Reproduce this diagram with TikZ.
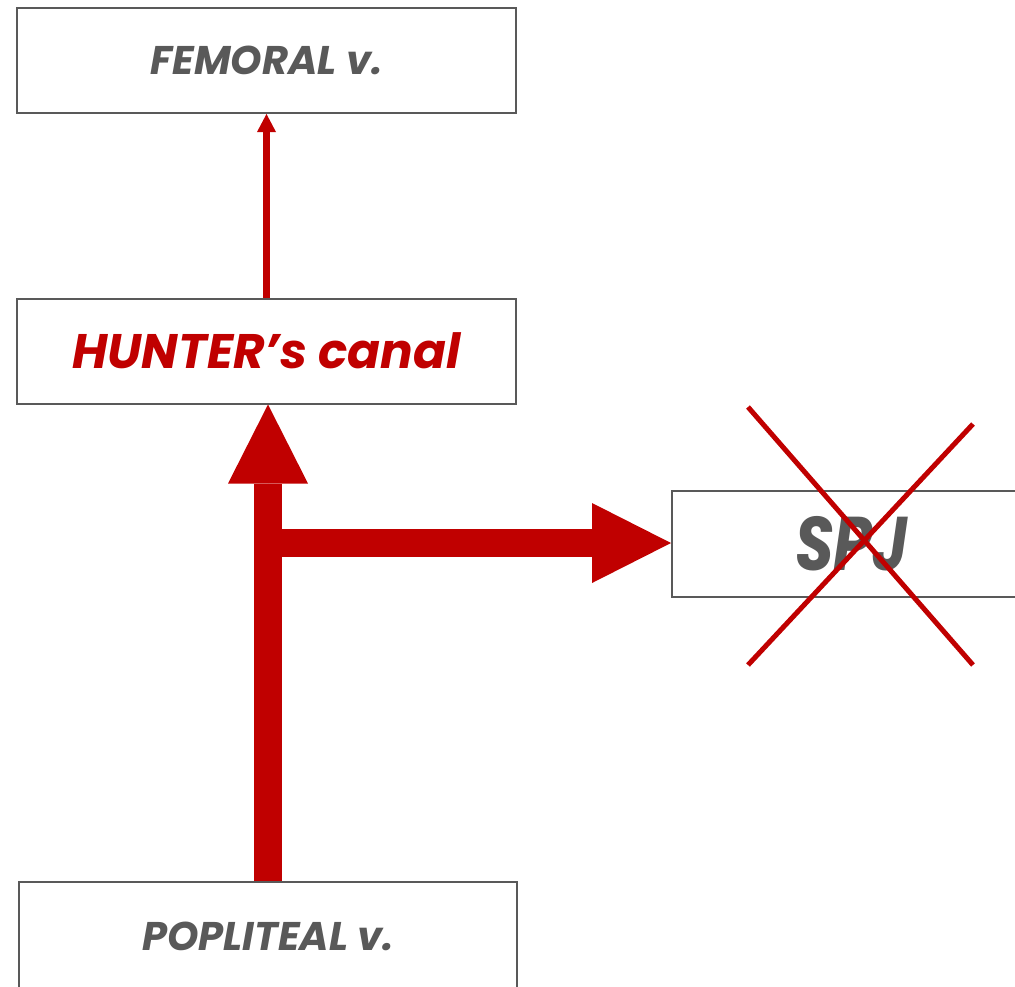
\documentclass[tikz,border=0pt]{standalone}
\usepackage{fontspec}
\setmainfont{Poppins}
\usetikzlibrary{arrows.meta}
\definecolor{vred}{HTML}{C00000}
\definecolor{vgray}{HTML}{595959}
\tikzset{
  vbox/.style={draw=vgray, line width=2pt, fill=white, minimum width=499pt, minimum height=105pt, inner sep=0pt, text=vgray, font=\bfseries\itshape\fontsize{40}{46}\selectfont},
  thinarrow/.style={draw=vred, line width=6.5pt, -{Triangle[width=19pt,length=18pt,line width=0pt]}, fill=vred},
  thickarrow/.style={draw=vred, line width=28pt, -{Triangle[width=80pt,length=79pt,line width=0pt]}, fill=vred},
  cross/.style={draw=vred, line width=5pt}
}
\begin{document}
\begin{tikzpicture}[x=1pt,y=-1pt]
\useasboundingbox (0,0) rectangle (1015,986);
\clip (0,0) rectangle (1015,986);
\node[vbox] (fem) at (266.5,60.5) {FEMORAL v.};
\node[vbox, text=vred, font=\bfseries\itshape\fontsize{48.5}{54}\selectfont] (hun) at (266.5,351) {HUNTER’s canal};
\node[vbox, minimum width=360pt, minimum height=106pt, font=\bfseries\itshape\fontsize{76}{80}\selectfont\addfontfeature{FakeStretch=0.82}] (spj) at (852,544) {SPJ};
\node[vbox, minimum width=498pt, minimum height=108pt] (pop) at (268,936) {POPLITEAL v.};
\draw[thinarrow] (hun.north) -- (fem.south);
\coordinate (branch) at (267,543);
\draw[thickarrow] (pop.north) -- (pop.north |- hun.south);
\draw[thickarrow] (branch) -- (branch -| spj.west);
\coordinate (x1) at (748,407);
\coordinate (x2) at (973,665);
\coordinate (x3) at (973,424);
\coordinate (x4) at (748,665);
\draw[cross] (x1) -- (x2);
\draw[cross] (x3) -- (x4);
\end{tikzpicture}
\end{document}
